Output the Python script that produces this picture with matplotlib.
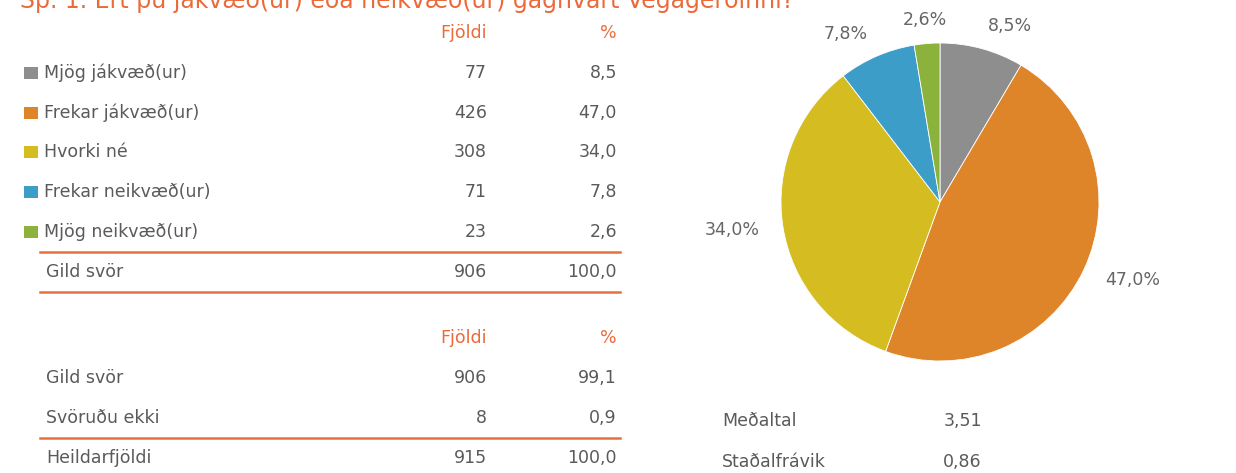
import matplotlib
matplotlib.use("Agg")
import matplotlib.pyplot as plt
from matplotlib.patches import Rectangle

# ---- data ----
title = "Sp. 1. Ert þú jákvæð(ur) eða neikvæð(ur) gagnvart Vegagerðinni?"
categories = ["Mjög jákvæð(ur)", "Frekar jákvæð(ur)", "Hvorki né",
              "Frekar neikvæð(ur)", "Mjög neikvæð(ur)"]
counts = [77, 426, 308, 71, 23]
percents = [8.5, 47.0, 34.0, 7.8, 2.6]
valid_label = "Gild svör"
valid_count = 906
valid_pct = 100.0

resp_labels = ["Gild svör", "Svöruðu ekki", "Heildarfjöldi"]
resp_counts = [906, 8, 915]
resp_pcts = [99.1, 0.9, 100.0]

stat_labels = ["Meðaltal", "Staðalfrávik"]
stat_values = [3.51, 0.86]

col_headers = ["Fjöldi", "%"]

# ---- style ----
slice_colors = ["#8E8E8E", "#DE8429", "#D5BD21", "#3C9DC9", "#8BB23C"]
txt = "#5A5A5A"
accent = "#EC6A3A"
line_c = "#E8703E"
fs = 12.5

plt.rcParams["font.family"] = ["DejaVu Sans"]

W, H = 1236, 473
fig = plt.figure(figsize=(W / 100, H / 100), dpi=100)
fig.patch.set_facecolor("white")

ax = fig.add_axes([0, 0, 1, 1])
ax.set_xlim(0, W)
ax.set_ylim(H, 0)
ax.axis("off")


def fmt(v, nd=1):
    return f"{v:.{nd}f}".replace(".", ",")


# title (clipped at top as in reference)
ax.text(20, 8, title, color=accent, fontsize=17, ha="left", va="baseline")

xc, xp = 487, 617
# header 1
ax.text(xc, 33, col_headers[0], color=accent, fontsize=fs, ha="right", va="center")
ax.text(xp, 33, col_headers[1], color=accent, fontsize=fs, ha="right", va="center")

row_y = [73, 113, 152, 192, 232]
for y, lab, c, p, col in zip(row_y, categories, counts, percents, slice_colors):
    ax.add_patch(Rectangle((24, y - 6), 14, 12, color=col, lw=0))
    ax.text(44, y, lab, color=txt, fontsize=fs, ha="left", va="center")
    ax.text(xc, y, str(c), color=txt, fontsize=fs, ha="right", va="center")
    ax.text(xp, y, fmt(p), color=txt, fontsize=fs, ha="right", va="center")

ax.plot([40, 620], [252, 252], color=line_c, lw=1.8)
ax.text(46, 272, valid_label, color=txt, fontsize=fs, ha="left", va="center")
ax.text(xc, 272, str(valid_count), color=txt, fontsize=fs, ha="right", va="center")
ax.text(xp, 272, fmt(valid_pct), color=txt, fontsize=fs, ha="right", va="center")
ax.plot([40, 620], [292, 292], color=line_c, lw=1.8)

# second table
ax.text(xc, 338, col_headers[0], color=accent, fontsize=fs, ha="right", va="center")
ax.text(xp, 338, col_headers[1], color=accent, fontsize=fs, ha="right", va="center")
row2_y = [378, 418, 458]
for y, lab, c, p in zip(row2_y, resp_labels, resp_counts, resp_pcts):
    ax.text(46, y, lab, color=txt, fontsize=fs, ha="left", va="center")
    ax.text(xc, y, str(c), color=txt, fontsize=fs, ha="right", va="center")
    ax.text(xp, y, fmt(p), color=txt, fontsize=fs, ha="right", va="center")
ax.plot([40, 620], [438, 438], color=line_c, lw=1.8)

# stats
for y, lab, v in zip([421, 462], stat_labels, stat_values):
    ax.text(722, y, lab, color=txt, fontsize=fs, ha="left", va="center")
    ax.text(982, y, fmt(v, 2), color=txt, fontsize=fs, ha="right", va="center")

# pie
cx, cy, r = 940, 202, 159
pax = fig.add_axes([(cx - r) / W, (H - cy - r) / H, 2 * r / W, 2 * r / H])
wedges, texts = pax.pie(percents, colors=slice_colors, startangle=90,
                        counterclock=False,
                        labels=[fmt(p) + "%" for p in percents],
                        labeldistance=1.15,
                        wedgeprops=dict(edgecolor="white", linewidth=0.6),
                        textprops=dict(color="#666666", fontsize=fs))
texts[4].set_ha("center")
pax.set_xlim(-1, 1)
pax.set_ylim(-1, 1)
pax.set_aspect("auto")
pax.axis("off")

fig.savefig("out.png", dpi=100, facecolor="white")
